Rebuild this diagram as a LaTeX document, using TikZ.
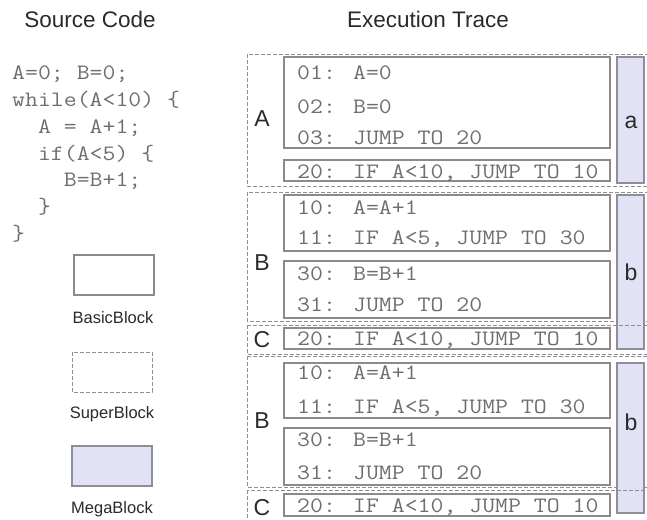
\documentclass[tikz,border=0pt]{standalone}
\usepackage{fontspec}
\usepackage{graphicx}
\setmainfont{Liberation Sans}
\newcommand{\cd}[1]{\scalebox{1.14}[1]{#1}}
\definecolor{codegray}{HTML}{6E6E6E}
\definecolor{txtdark}{HTML}{2A2A2A}
\definecolor{bbline}{HTML}{8E8A88}
\definecolor{sbline}{HTML}{8E8E8E}
\definecolor{mbfill}{HTML}{E2E2F6}
\definecolor{mbline}{HTML}{8E8E96}
\tikzset{
  basicb/.style={draw=bbline, line width=1.3pt, fill=white},
  superb/.style={draw=sbline, line width=0.9pt, dash pattern=on 4pt off 2pt},
  megab/.style={draw=mbline, line width=1.2pt, fill=mbfill},
  codeln/.style={font=\fontsize{22}{24}\selectfont\ttfamily, text=codegray, anchor=base west, inner sep=0pt},
  lbl/.style={font=\fontsize{23}{26}\selectfont, text=txtdark, anchor=base, inner sep=0pt},
  leglbl/.style={font=\fontsize{16.5}{19}\selectfont, text=txtdark, anchor=base, inner sep=0pt},
  titl/.style={font=\fontsize{22.5}{26}\selectfont, text=txtdark, anchor=base, inner sep=0pt}
}
\begin{document}
\begin{tikzpicture}[x=1pt,y=-1pt]
\useasboundingbox (0,0) rectangle (647,519);
% titles
\node[titl] (t1) at (90,28) {Source Code};
\node[titl] (t2) at (428,28) {Execution Trace};
% source code
\node[codeln] (c1) at (12,79) {\cd{A=0; B=0;}};
\node[codeln] (c2) at (12,106) {\cd{while(A<10) \{}};
\node[codeln] (c3) at (12,133) {\cd{\ \ A = A+1;}};
\node[codeln] (c4) at (12,160) {\cd{\ \ if(A<5) \{}};
\node[codeln] (c5) at (12,186) {\cd{\ \ \ \ B=B+1;}};
\node[codeln] (c6) at (12,213) {\cd{\ \ \}}};
\node[codeln] (c7) at (12,240) {\cd{\}}};
% legend
\draw[basicb] (74,255) rectangle (154,295);
\node[leglbl] (l1) at (113,323) {BasicBlock};
\draw[superb] (72,352) rectangle (152,392);
\node[leglbl] (l2) at (112,418) {SuperBlock};
\draw[megab] (72,446) rectangle (152,486);
\node[leglbl] (l3) at (112,513) {MegaBlock};
% ---------- superblock A
\draw[superb] (247,54) rectangle (652,186);
\draw[basicb] (284,57) rectangle (610,148);
\node[codeln] (a1) at (297,79.5) {\cd{01: A=0}};
\node[codeln] (a2) at (297,113.5) {\cd{02: B=0}};
\node[codeln] (a3) at (297,144.5) {\cd{03: JUMP TO 20}};
\draw[basicb] (284,160) rectangle (610,181);
\node[codeln] (a4) at (297,178) {\cd{20: IF A<10, JUMP TO 10}};
\draw[megab] (617,57) rectangle (644,183);
\node[lbl] (la) at (262,126) {A};
\node[lbl] (ma) at (631,128) {a};
% ---------- superblock B (1)
\draw[superb] (247,192) rectangle (652,321);
\draw[megab] (617,195) rectangle (644,349);
\draw[basicb] (284,195) rectangle (610,251);
\node[codeln] (b1) at (297,214.5) {\cd{10: A=A+1}};
\node[codeln] (b2) at (297,244.5) {\cd{11: IF A<5, JUMP TO 30}};
\draw[basicb] (284,261) rectangle (610,318);
\node[codeln] (b3) at (297,280.5) {\cd{30: B=B+1}};
\node[codeln] (b4) at (297,311.5) {\cd{31: JUMP TO 20}};
\node[lbl] (lb1) at (262,270) {B};
\node[lbl] (mb1) at (631,280) {b};
% ---------- superblock C (1)
\draw[superb] (247,325) rectangle (652,354);
\draw[basicb] (284,328) rectangle (610,349);
\node[codeln] (c8) at (297,345.5) {\cd{20: IF A<10, JUMP TO 10}};
\node[lbl] (lc1) at (262,347) {C};
% ---------- superblock B (2)
\draw[superb] (247,356) rectangle (652,487);
\draw[megab] (617,363) rectangle (644,513);
\draw[basicb] (284,363) rectangle (610,418);
\node[codeln] (d1) at (297,379.5) {\cd{10: A=A+1}};
\node[codeln] (d2) at (297,413.5) {\cd{11: IF A<5, JUMP TO 30}};
\draw[basicb] (284,428) rectangle (610,485);
\node[codeln] (d3) at (297,446.5) {\cd{30: B=B+1}};
\node[codeln] (d4) at (297,479.5) {\cd{31: JUMP TO 20}};
\node[lbl] (lb2) at (262,428) {B};
\node[lbl] (mb2) at (631,430) {b};
% ---------- superblock C (2)
\draw[superb] (247,490) rectangle (652,524);
\draw[basicb] (284,494) rectangle (610,516);
\node[codeln] (d5) at (297,512) {\cd{20: IF A<10, JUMP TO 10}};
\node[lbl] (lc2) at (262,515) {C};
\end{tikzpicture}
\end{document}
